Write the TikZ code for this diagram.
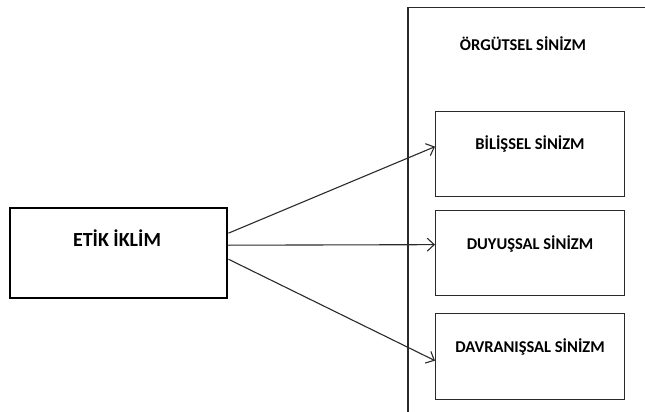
\documentclass[tikz,border=0pt]{standalone}
\usepackage{fontspec}
\setmainfont{Carlito}
\usetikzlibrary{arrows.meta}
\definecolor{ln}{HTML}{2A2A2A}
\tikzset{
  box/.style={draw=ln, line width=1.3pt, rectangle, inner sep=0pt, anchor=north west},
  thickbox/.style={draw=black, line width=2.4pt, rectangle, inner sep=0pt, anchor=north west},
  lbl/.style={font=\bfseries, text=black, inner sep=0pt},
  arr/.style={draw=ln, line width=1.1pt, -{Straight Barb[length=7pt,width=13pt,line width=1.1pt]}},
  frame/.style={draw=ln, line width=1.1pt}
}
\begin{document}
\begin{tikzpicture}[x=1pt,y=-1pt]
\useasboundingbox (0,0) rectangle (645,412);
% outer group frame (cut at right and bottom)
\coordinate (ftr) at (645,7.5);
\coordinate (ftl) at (408,7.5);
\coordinate (fbl) at (408,412);
\draw[frame] (ftr) -- (ftl) -- (fbl);
\node[lbl, font=\bfseries\fontsize{16.5}{18}\selectfont] (org) at (523,44) {ÖRGÜTSEL SİNİZM};
% boxes
\node[thickbox, minimum width=217pt, minimum height=90pt] (etik) at (9,207) {};
\node[box, minimum width=189pt, minimum height=85pt] (bil) at (435,111) {};
\node[box, minimum width=189pt, minimum height=85pt] (duy) at (435,210) {};
\node[box, minimum width=189pt, minimum height=86pt] (dav) at (435,313) {};
% labels
\node[lbl, font=\bfseries\fontsize{20}{22}\selectfont] (etikt) at (117,238) {ETİK İKLİM};
\node[lbl, font=\bfseries\fontsize{16.5}{18}\selectfont] (bilt) at (530,144) {BİLİŞSEL SİNİZM};
\node[lbl, font=\bfseries\fontsize{16.5}{18}\selectfont] (duyt) at (530,244) {DUYUŞSAL SİNİZM};
\node[lbl, font=\bfseries\fontsize{16.5}{18}\selectfont] (davt) at (530,347) {DAVRANIŞSAL SİNİZM};
% arrows
\draw[arr] ([yshift=20pt]etik.east) -- ([yshift=7.5pt]bil.west);
\draw[arr] ([yshift=8pt]etik.east) -- ([yshift=8.5pt]duy.west);
\draw[arr] ([yshift=-6pt]etik.east) -- ([yshift=-4pt]dav.west);
\end{tikzpicture}
\end{document}
